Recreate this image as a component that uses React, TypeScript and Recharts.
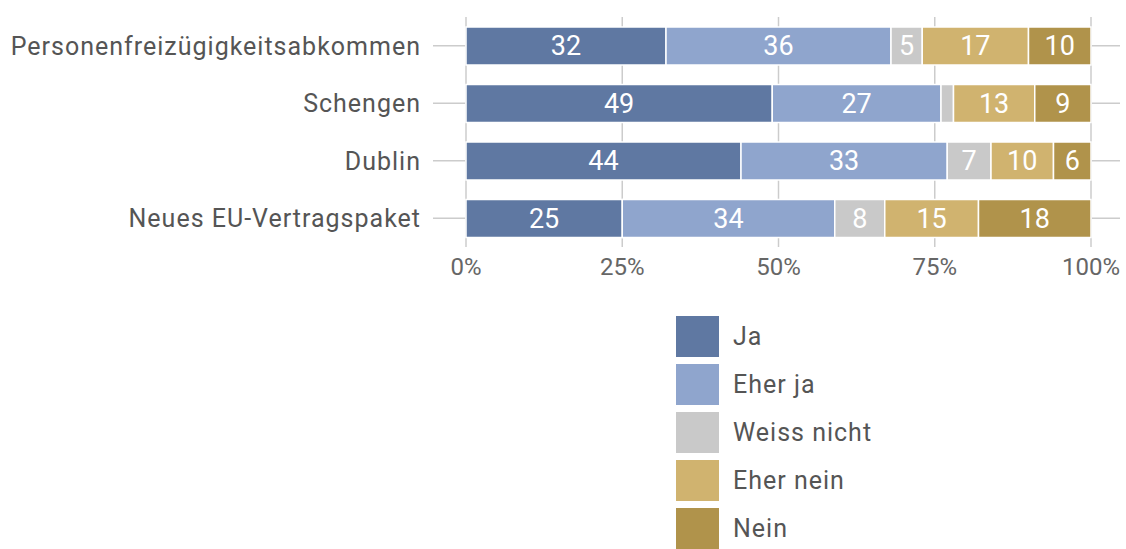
import { Bar, BarChart, CartesianGrid, LabelList, Legend, XAxis, YAxis } from "recharts";

const categories = [
  "Personenfreizügigkeitsabkommen",
  "Schengen",
  "Dublin",
  "Neues EU-Vertragspaket",
];
const ja = [32, 49, 44, 25];
const eherJa = [36, 27, 33, 34];
const weissNicht = [5, 2, 7, 8];
const eherNein = [17, 13, 10, 15];
const nein = [10, 9, 6, 18];
const xTicks = [0, 25, 50, 75, 100];

const series = [
  { key: "ja", name: "Ja", color: "#5f78a2" },
  { key: "eherJa", name: "Eher ja", color: "#8fa5cd" },
  { key: "weissNicht", name: "Weiss nicht", color: "#c9c9c9" },
  { key: "eherNein", name: "Eher nein", color: "#d0b36f" },
  { key: "nein", name: "Nein", color: "#b0934b" },
];

const data = categories.map((name, i) => ({
  name,
  ja: ja[i],
  eherJa: eherJa[i],
  weissNicht: weissNicht[i],
  eherNein: eherNein[i],
  nein: nein[i],
}));

const FONT = "Roboto, 'Liberation Sans', sans-serif";
const PAD_L = 33;
const PAD_R = 29;

function ValueLabel(props: any) {
  const { x, y, width, height, value } = props;
  if (value < 3) return null;
  return (
    <text
      x={x + width / 2}
      y={y + height / 2}
      textAnchor="middle"
      dominantBaseline="central"
      fill="#fff"
      fontSize={27}
      fontFamily={FONT}
    >
      {value}
    </text>
  );
}

function LegendBox() {
  return (
    <div style={{ fontFamily: FONT }}>
      {series.map((s) => (
        <div key={s.key} style={{ display: "flex", alignItems: "center", height: 48 }}>
          <div style={{ width: 43, height: 41, background: s.color }} />
          <span style={{ marginLeft: 14, fontSize: 25, letterSpacing: 1, color: "#555" }}>
            {s.name}
          </span>
        </div>
      ))}
    </div>
  );
}

// grid lines only at the tick positions, no frame around the plot
const vGrid = ({ offset }: any) =>
  xTicks.map((t) => offset.left + PAD_L + ((offset.width - PAD_L - PAD_R) * t) / 100);
const hGrid = ({ offset }: any) =>
  categories.map((_, i) => offset.top + (offset.height * (i + 0.5)) / categories.length);

export default function App() {
  return (
    <div style={{ position: "absolute", left: 0, top: 0, background: "#fff" }}>
      <BarChart
        width={1126}
        height={549}
        data={data}
        layout="vertical"
        margin={{ top: 17, right: 6, bottom: 272, left: 0 }}
        barSize={38}
      >
        <CartesianGrid
          stroke="#cccccc"
          strokeWidth={1.5}
          verticalCoordinatesGenerator={vGrid}
          horizontalCoordinatesGenerator={hGrid}
        />
        <XAxis
          type="number"
          domain={[0, 100]}
          ticks={xTicks}
          tickFormatter={(v) => `${v}%`}
          padding={{ left: PAD_L, right: PAD_R }}
          axisLine={false}
          tickLine={false}
          tickSize={0}
          tickMargin={11}
          height={30}
          tick={{ fill: "#666", fontSize: 24, fontFamily: FONT }}
        />
        <YAxis
          type="category"
          dataKey="name"
          width={433}
          axisLine={false}
          tickLine={false}
          tickSize={0}
          tickMargin={12}
          tick={{ fill: "#555", fontSize: 25, fontFamily: FONT, letterSpacing: 1 }}
        />
        <Legend
          layout="vertical"
          align="center"
          verticalAlign="middle"
          content={() => <LegendBox />}
          wrapperStyle={{ top: 312, left: 676, width: "auto", height: "auto" }}
        />
        {series.map((s) => (
          <Bar
            key={s.key}
            dataKey={s.key}
            name={s.name}
            stackId="a"
            fill={s.color}
            stroke="#fff"
            strokeWidth={1.5}
            isAnimationActive={false}
          >
            <LabelList dataKey={s.key} content={<ValueLabel />} />
          </Bar>
        ))}
      </BarChart>
    </div>
  );
}
